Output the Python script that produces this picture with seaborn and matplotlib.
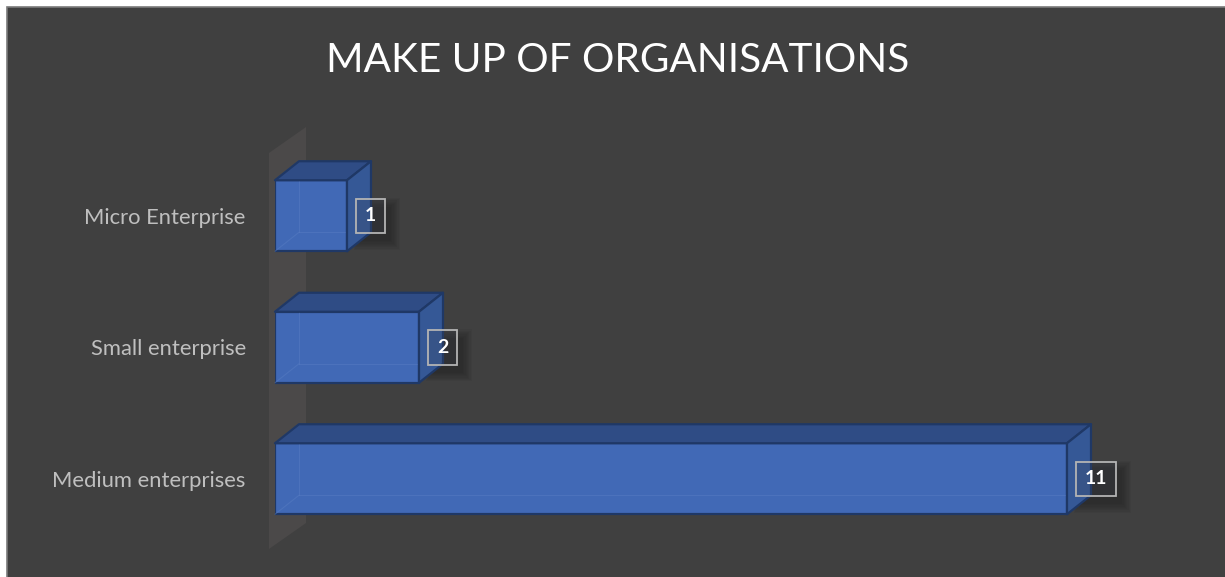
import matplotlib
matplotlib.use("Agg")
import matplotlib.pyplot as plt
from matplotlib.patches import Polygon, Rectangle
from matplotlib.transforms import IdentityTransform
import seaborn as sns
import pandas as pd

# Organisation size breakdown
categories = ["Micro Enterprise", "Small enterprise", "Medium enterprises"]
counts = [1, 2, 11]
title = "MAKE UP OF ORGANISATIONS"

W, H, DPI = 1225, 577, 100
BG = "#404040"
FRONT = "#4169b6"
TOP = "#2f4c85"
SIDE = "#355896"
EDGE = "#1f3866"
LABEL = "#bfbfbf"

sns.set_theme(style="white")
plt.rcParams["font.family"] = ["Lato", "DejaVu Sans"]

fig = plt.figure(figsize=(W / DPI, H / DPI), dpi=DPI, facecolor="white")

# chart area panel with thin grey rim
fig.patches.append(Rectangle((7 / W, -0.05), 1.1, 1 - 7 / H + 0.05,
                             transform=fig.transFigure, facecolor=BG,
                             edgecolor="#7a7a7a", linewidth=1.2, zorder=-5))

# plot area: x=0 at 275px, 72px per unit; rows 131.5px apart starting at 150px
ax = fig.add_axes([275 / W, 1 - 544.5 / H, 13 * 72 / W, 394.5 / H])
ax.set_facecolor("none")

df = pd.DataFrame({"category": categories, "count": counts})
sns.barplot(data=df, x="count", y="category", orient="h", color=FRONT,
            saturation=1, width=0.54, edgecolor=EDGE, linewidth=1.6, ax=ax,
            zorder=3)
ax.set_xlim(0, 13)
ax.set_ylim(2.5, -0.5)

# depth of the 3-D bars, converted from pixels to data units
DX = 24 / 72
DY = 19 / 131.5


def ypx(p):
    return (p - 150) / 131.5 - 0.5


# side wall behind the category axis
wall = Polygon([(-6 / 72, ypx(153)), (31 / 72, ypx(127)),
                (31 / 72, ypx(523)), (-6 / 72, ypx(549))],
               closed=True, facecolor="#4b4949", edgecolor="none",
               clip_on=False, zorder=1)
ax.add_patch(wall)

labels = []
for rect, val in zip(ax.patches[:len(counts)], counts):
    x0, y0 = rect.get_x(), rect.get_y()
    w, h = rect.get_width(), rect.get_height()
    x1, y1 = x0 + w, y0 + h
    # faint hidden back edges seen through the bar
    for xs, ys in [([x0 + DX, x0 + DX], [y0 - DY, y1 - DY]),
                   ([x0 + DX, x1 + DX], [y1 - DY, y1 - DY]),
                   ([x0, x0 + DX], [y1, y1 - DY])]:
        ax.plot(xs, ys, color="#5a7fc4", lw=0.8, alpha=0.45, zorder=3.5,
                clip_on=False)
    top = Polygon([(x0, y0), (x1, y0), (x1 + DX, y0 - DY), (x0 + DX, y0 - DY)],
                  closed=True, facecolor=TOP, edgecolor=EDGE, linewidth=1.6,
                  joinstyle="round", clip_on=False, zorder=4)
    side = Polygon([(x1, y0), (x1, y1), (x1 + DX, y1 - DY), (x1 + DX, y0 - DY)],
                   closed=True, facecolor=SIDE, edgecolor=EDGE, linewidth=1.6,
                   joinstyle="round", clip_on=False, zorder=4)
    ax.add_patch(top)
    ax.add_patch(side)

    yc = y0 + h / 2
    ann = ax.annotate(str(val), xy=(x1, yc), xytext=(13, 0),
                      textcoords="offset points", ha="left", va="center",
                      fontsize=14, fontweight="bold", color="white",
                      bbox=dict(boxstyle="square,pad=0.45",
                                fc=(0.25, 0.27, 0.33, 0.2),
                                ec="#b4b4b4", lw=1.3),
                      zorder=5, annotation_clip=False)
    labels.append(ann)

ax.set_xlabel("")
ax.set_ylabel("")
ax.set_xticks([])
ax.tick_params(axis="y", length=0, pad=21, labelsize=15.8, labelcolor=LABEL)
for s in ax.spines.values():
    s.set_visible(False)

fig.text(618 / W, 1 - 60 / H, title, ha="center", va="center",
         fontsize=29.2, color="white")

# soft drop shadows behind the value boxes
fig.canvas.draw()
renderer = fig.canvas.get_renderer()
for ann in labels:
    bb = ann.get_bbox_patch().get_window_extent(renderer)
    for k in range(8):
        grow = 2.5 * k
        fig.patches.append(Rectangle((bb.x0 + 6 - grow / 2, bb.y0 - 8 - grow / 2),
                                     bb.width + grow, bb.height + grow,
                                     transform=IdentityTransform(),
                                     facecolor="black", alpha=0.035,
                                     edgecolor="none", zorder=-1))

fig.savefig("out.png", dpi=DPI, facecolor=fig.get_facecolor())
